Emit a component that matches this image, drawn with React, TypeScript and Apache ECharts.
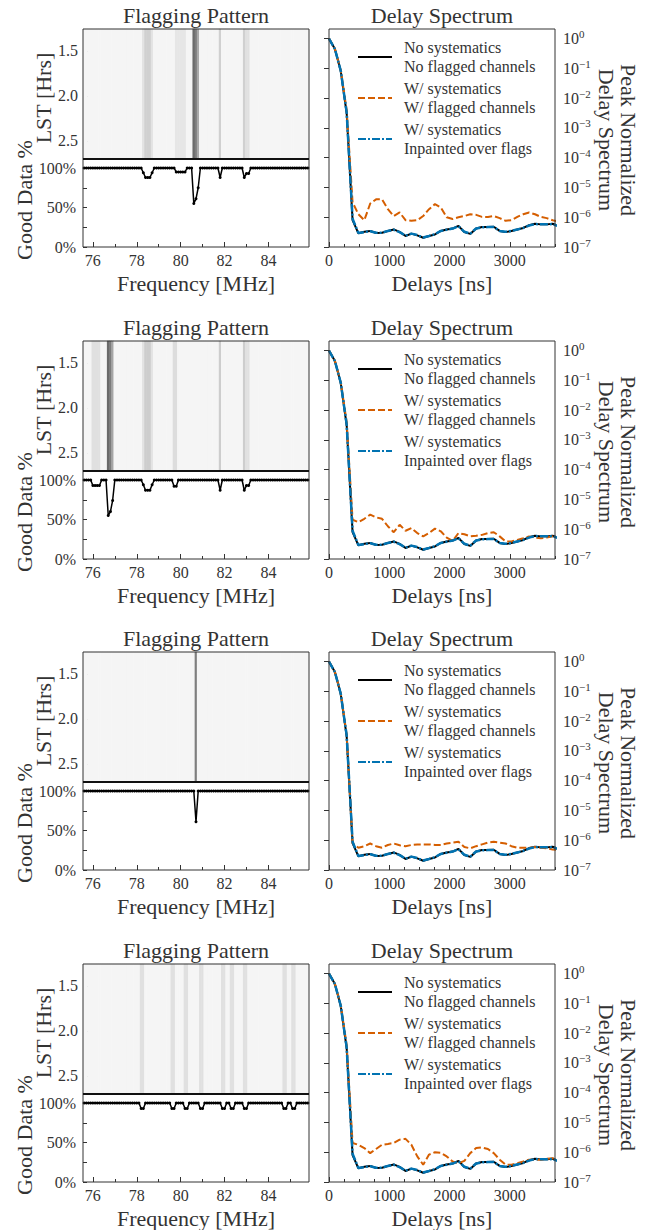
import React, { useEffect, useRef } from "react";
import * as echarts from "echarts";

// ---------------- data ----------------
const channelFreqs = [
  75.6, 75.7, 75.8, 75.9, 76.0, 76.1, 76.2, 76.3, 76.4, 76.5,
  76.6, 76.7, 76.8, 76.9, 77.0, 77.1, 77.2, 77.3, 77.4, 77.5,
  77.6, 77.7, 77.8, 77.9, 78.0, 78.1, 78.2, 78.3, 78.4, 78.5,
  78.6, 78.7, 78.8, 78.9, 79.0, 79.1, 79.2, 79.3, 79.4, 79.5,
  79.6, 79.7, 79.8, 79.9, 80.0, 80.1, 80.2, 80.3, 80.4, 80.5,
  80.6, 80.7, 80.8, 80.9, 81.0, 81.1, 81.2, 81.3, 81.4, 81.5,
  81.6, 81.7, 81.8, 81.9, 82.0, 82.1, 82.2, 82.3, 82.4, 82.5,
  82.6, 82.7, 82.8, 82.9, 83.0, 83.1, 83.2, 83.3, 83.4, 83.5,
  83.6, 83.7, 83.8, 83.9, 84.0, 84.1, 84.2, 84.3, 84.4, 84.5,
  84.6, 84.7, 84.8, 84.9, 85.0, 85.1, 85.2, 85.3, 85.4, 85.5,
  85.6, 85.7, 85.8,
];

const goodDataPct1 = [
  100, 100, 100, 100, 100, 100, 100, 100, 100, 100,
  100, 100, 100, 100, 100, 100, 100, 100, 100, 100,
  100, 100, 100, 100, 100, 100, 100, 94, 88, 88,
  88, 94, 100, 100, 100, 100, 100, 100, 100, 100,
  100, 100, 95, 95, 95, 95, 95, 100, 100, 100,
  55, 61, 75, 100, 100, 100, 100, 100, 100, 100,
  100, 100, 88, 100, 100, 100, 100, 100, 100, 100,
  100, 100, 100, 88, 93, 93, 100, 100, 100, 100,
  100, 100, 100, 100, 100, 100, 100, 100, 100, 100,
  100, 100, 100, 100, 100, 100, 100, 100, 100, 100,
  100, 100, 100,
];

const goodDataPct2 = [
  100, 100, 100, 100, 93, 93, 93, 93, 100, 100,
  100, 55, 60, 74, 100, 100, 100, 100, 100, 100,
  100, 100, 100, 100, 100, 100, 100, 94, 87, 87,
  87, 94, 100, 100, 100, 100, 100, 100, 100, 100,
  100, 92, 92, 100, 100, 100, 100, 100, 100, 100,
  100, 100, 100, 100, 100, 100, 100, 100, 100, 100,
  100, 100, 87, 100, 100, 100, 100, 100, 100, 100,
  100, 100, 100, 87, 93, 93, 100, 100, 100, 100,
  100, 100, 100, 100, 100, 100, 100, 100, 100, 100,
  100, 100, 100, 100, 100, 100, 100, 100, 100, 100,
  100, 100, 100,
];

const goodDataPct3 = [
  100, 100, 100, 100, 100, 100, 100, 100, 100, 100,
  100, 100, 100, 100, 100, 100, 100, 100, 100, 100,
  100, 100, 100, 100, 100, 100, 100, 100, 100, 100,
  100, 100, 100, 100, 100, 100, 100, 100, 100, 100,
  100, 100, 100, 100, 100, 100, 100, 100, 100, 100,
  100, 61, 100, 100, 100, 100, 100, 100, 100, 100,
  100, 100, 100, 100, 100, 100, 100, 100, 100, 100,
  100, 100, 100, 100, 100, 100, 100, 100, 100, 100,
  100, 100, 100, 100, 100, 100, 100, 100, 100, 100,
  100, 100, 100, 100, 100, 100, 100, 100, 100, 100,
  100, 100, 100,
];

const goodDataPct4 = [
  100, 100, 100, 100, 100, 100, 100, 100, 100, 100,
  100, 100, 100, 100, 100, 100, 100, 100, 100, 100,
  100, 100, 100, 100, 100, 100, 93, 93, 100, 100,
  100, 100, 100, 100, 100, 100, 100, 100, 100, 100,
  93, 93, 100, 100, 100, 100, 93, 93, 100, 100,
  100, 100, 100, 93, 93, 100, 100, 100, 100, 100,
  100, 100, 100, 93, 93, 100, 100, 93, 93, 100,
  100, 100, 100, 93, 93, 100, 100, 100, 100, 100,
  100, 100, 100, 100, 100, 100, 100, 100, 100, 100,
  100, 93, 93, 100, 100, 93, 93, 100, 100, 100,
  100, 100, 100,
];

const delaysNs = [
  0, 98, 195, 293, 391, 488, 586, 684, 781, 879,
  977, 1074, 1172, 1270, 1367, 1465, 1563, 1660, 1758, 1855,
  1953, 2051, 2148, 2246, 2344, 2441, 2539, 2637, 2734, 2832,
  2930, 3027, 3125, 3223, 3320, 3418, 3516, 3613, 3711, 3809,
];

// log10 of the peak-normalised delay spectrum
const noSystematicsLog = [
  0, -0.35, -1.09, -2.5, -6.1, -6.54, -6.49, -6.46, -6.53, -6.52,
  -6.46, -6.41, -6.49, -6.63, -6.55, -6.61, -6.69, -6.63, -6.58, -6.46,
  -6.41, -6.38, -6.29, -6.5, -6.56, -6.38, -6.33, -6.33, -6.32, -6.46,
  -6.5, -6.46, -6.41, -6.36, -6.27, -6.22, -6.24, -6.24, -6.22, -6.3,
];

const inpaintedLog = [
  0, -0.35, -1.08, -2.48, -6.05, -6.53, -6.5, -6.47, -6.52, -6.52,
  -6.46, -6.42, -6.5, -6.62, -6.55, -6.6, -6.68, -6.63, -6.57, -6.46,
  -6.42, -6.38, -6.3, -6.49, -6.55, -6.38, -6.34, -6.33, -6.33, -6.46,
  -6.49, -6.46, -6.41, -6.36, -6.28, -6.23, -6.24, -6.24, -6.23, -6.3,
];

const flaggedLog1 = [
  0, -0.35, -1.07, -2.4, -5.5, -5.9, -6.1, -5.54, -5.4, -5.4,
  -5.73, -5.96, -5.84, -6.1, -6.12, -6.1, -5.96, -5.73, -5.56, -5.67,
  -6.0, -6.06, -6.0, -5.96, -5.9, -5.92, -5.99, -5.99, -5.96, -6.03,
  -6.12, -6.1, -5.99, -5.9, -5.84, -5.9, -5.99, -6.03, -6.1, -6.15,
];

const flaggedLog2 = [
  0, -0.35, -1.07, -2.4, -5.68, -5.76, -5.65, -5.51, -5.6, -5.65,
  -5.9, -6.1, -5.85, -6.05, -5.96, -6.13, -6.24, -6.13, -5.98, -6.07,
  -6.28, -6.39, -6.13, -6.17, -6.24, -6.22, -6.19, -6.13, -6.1, -6.24,
  -6.41, -6.41, -6.36, -6.3, -6.24, -6.28, -6.3, -6.28, -6.24, -6.28,
];

const flaggedLog3 = [
  0, -0.35, -1.07, -2.45, -6.1, -6.25, -6.2, -6.11, -6.2, -6.25,
  -6.16, -6.11, -6.17, -6.2, -6.16, -6.14, -6.14, -6.14, -6.16, -6.16,
  -6.11, -6.08, -6.05, -6.23, -6.27, -6.2, -6.14, -6.08, -6.05, -6.08,
  -6.11, -6.2, -6.25, -6.25, -6.25, -6.23, -6.25, -6.27, -6.31, -6.33,
];

const flaggedLog4 = [
  0, -0.35, -1.07, -2.4, -5.69, -5.75, -5.86, -6.03, -5.89, -5.75,
  -5.72, -5.69, -5.58, -5.55, -5.75, -6.14, -6.42, -6.08, -6.0, -6.02,
  -6.14, -6.31, -6.37, -6.29, -6.03, -5.86, -5.84, -5.89, -6.03, -6.25,
  -6.42, -6.42, -6.37, -6.31, -6.25, -6.25, -6.25, -6.22, -6.2, -6.25,
];

const goodDataRows = [goodDataPct1, goodDataPct2, goodDataPct3, goodDataPct4];
const flaggedRows = [flaggedLog1, flaggedLog2, flaggedLog3, flaggedLog4];

const freqMajorTicks = [76, 78, 80, 82, 84];
const freqMinorTicks = [77, 79, 81, 83, 85];
const lstTicks = [1.5, 2.0, 2.5];
const pctTicks = [0, 25, 50, 75, 100];
const pctLabels = [0, 50, 100];
const delayMajorTicks = [0, 1000, 2000, 3000];
const delayMinorTicks = [250, 500, 750, 1250, 1500, 1750, 2250, 2500, 2750, 3250, 3500, 3750];

const legendNames = [
  "No systematics\nNo flagged channels",
  "W/ systematics\nW/ flagged channels",
  "W/ systematics\nInpainted over flags",
];

// ---------------- layout / style ----------------
const FONT = "'Liberation Serif', 'DejaVu Serif', serif";
const TEXT = "#333";
const AX = "#333";
const ROW_OFFS = [0, 312, 623, 935];
const L_LEFT = 83;
const R_LEFT = 329;
const PW = 226;

function buildOption() {
  const grids: any[] = [];
  const xAxes: any[] = [];
  const yAxes: any[] = [];
  const series: any[] = [];
  const legends: any[] = [];
  const elements: any[] = [];
  const heatIdx: number[] = [];

  const tickLabel = { fontFamily: FONT, fontSize: 16, color: TEXT };
  const tickLine = { color: AX, width: 1 };

  const txt = (text: string, x: number, y: number, size: number, rotation = 0, lineHeight?: number) => ({
    type: "text",
    x,
    y,
    rotation,
    z: 100,
    silent: true,
    style: {
      text,
      fill: TEXT,
      fontSize: size,
      fontFamily: FONT,
      lineHeight: lineHeight ?? size * 1.2,
      align: "center",
      verticalAlign: "middle",
      textAlign: "center",
      textVerticalAlign: "middle",
    },
  });
  const frame = (x: number, y: number, w: number, h: number) => ({
    type: "rect",
    z: 100,
    silent: true,
    shape: { x, y, width: w, height: h },
    style: { fill: "none", stroke: AX, lineWidth: 1 },
  });

  ROW_OFFS.forEach((o, r) => {
    const g0 = grids.length;
    grids.push({ left: L_LEFT, top: 29 + o, width: PW, height: 130 });
    grids.push({ left: L_LEFT, top: 159 + o, width: PW, height: 88 });
    grids.push({ left: R_LEFT, top: 29 + o, width: PW, height: 218 });

    const x0 = xAxes.length;
    xAxes.push({ type: "category", gridIndex: g0, data: channelFreqs.map(String), show: false, position: "top" });
    xAxes.push({
      type: "value", gridIndex: g0 + 1, min: 75.55, max: 85.85, position: "bottom",
      axisLine: { show: false }, splitLine: { show: false },
      axisTick: { show: true, inside: true, length: 5, customValues: freqMajorTicks, lineStyle: tickLine },
      axisLabel: { customValues: freqMajorTicks, margin: 5, ...tickLabel, formatter: (v: number) => String(v) },
    });
    xAxes.push({
      type: "value", gridIndex: g0 + 1, min: 75.55, max: 85.85, position: "bottom",
      axisLine: { show: false }, splitLine: { show: false },
      axisTick: { show: true, inside: true, length: 3, customValues: freqMinorTicks, lineStyle: tickLine },
      axisLabel: { show: false },
    });
    xAxes.push({
      type: "value", gridIndex: g0 + 2, min: 0, max: 3750, position: "bottom",
      axisLine: { show: false }, splitLine: { show: false },
      axisTick: { show: true, inside: true, length: 5, customValues: delayMajorTicks, lineStyle: tickLine },
      axisLabel: { customValues: delayMajorTicks, margin: 5, ...tickLabel, formatter: (v: number) => String(v) },
    });
    xAxes.push({
      type: "value", gridIndex: g0 + 2, min: 0, max: 3750, position: "bottom",
      axisLine: { show: false }, splitLine: { show: false },
      axisTick: { show: true, inside: true, length: 3, customValues: delayMinorTicks, lineStyle: tickLine },
      axisLabel: { show: false },
    });

    const y0 = yAxes.length;
    yAxes.push({ type: "category", gridIndex: g0, data: ["LST"], show: false, position: "right" });
    yAxes.push({
      type: "value", gridIndex: g0, min: 1.256, max: 2.7, inverse: true, position: "left",
      axisLine: { show: false }, splitLine: { show: false },
      axisTick: { show: true, inside: true, length: 5, customValues: lstTicks, lineStyle: tickLine },
      axisLabel: { customValues: lstTicks, margin: 5, ...tickLabel, formatter: (v: number) => v.toFixed(1) },
    });
    yAxes.push({
      type: "value", gridIndex: g0 + 1, min: 0, max: 111.4, position: "left",
      axisLine: { show: false }, splitLine: { show: false },
      axisTick: { show: true, inside: true, length: 4, customValues: pctTicks, lineStyle: tickLine },
      axisLabel: { customValues: pctLabels, margin: 7, ...tickLabel, formatter: (v: number) => `${v}%` },
    });
    yAxes.push({
      type: "log", logBase: 10, gridIndex: g0 + 2, min: 1e-7, max: 2.1, position: "right",
      axisLine: { show: false }, splitLine: { show: false }, minorTick: { show: false },
      axisTick: { show: true, inside: true, length: 5, lineStyle: tickLine },
      axisLabel: {
        margin: 8,
        showMaxLabel: false,
        formatter: (v: number) => {
          const e = Math.round(Math.log10(v));
          return `{b|10}{s|${e < 0 ? "\u2212" + -e : e}}`;
        },
        rich: {
          b: { fontFamily: FONT, fontSize: 16, color: TEXT, lineHeight: 20 },
          s: { fontFamily: FONT, fontSize: 11, color: TEXT, lineHeight: 12, verticalAlign: "top" },
        },
      },
    });

    const pct = goodDataRows[r];
    heatIdx.push(series.length);
    series.push({
      type: "heatmap", xAxisIndex: x0, yAxisIndex: y0, silent: true,
      data: channelFreqs.map((_, i) => [i, 0, pct[i]]),
      emphasis: { disabled: true },
    });
    series.push({
      type: "line", xAxisIndex: x0 + 1, yAxisIndex: y0 + 2, silent: true,
      data: channelFreqs.map((f, i) => [f, pct[i]]),
      symbol: "circle", symbolSize: 3, showAllSymbol: true,
      itemStyle: { color: "#000" },
      lineStyle: { color: "#000", width: 1.5 },
    });
    const fl = flaggedRows[r];
    series.push({
      type: "line", name: legendNames[0], xAxisIndex: x0 + 3, yAxisIndex: y0 + 3, silent: true,
      data: delaysNs.map((d, k) => [d, Math.pow(10, noSystematicsLog[k])]),
      symbol: "none", color: "#000", lineStyle: { color: "#000", width: 2 },
    });
    series.push({
      type: "line", name: legendNames[1], xAxisIndex: x0 + 3, yAxisIndex: y0 + 3, silent: true,
      data: delaysNs.map((d, k) => [d, Math.pow(10, fl[k])]),
      symbol: "none", color: "#d55e00", lineStyle: { color: "#d55e00", width: 2, type: [7, 3] },
    });
    series.push({
      type: "line", name: legendNames[2], xAxisIndex: x0 + 3, yAxisIndex: y0 + 3, silent: true,
      data: delaysNs.map((d, k) => [d, Math.pow(10, inpaintedLog[k])]),
      symbol: "none", color: "#0173b2", lineStyle: { color: "#0173b2", width: 2.5, type: [8, 2, 2, 2] },
    });

    legends.push({
      orient: "vertical", left: 352, top: 33 + o, itemWidth: 34, itemHeight: 14, itemGap: 3,
      selectedMode: false, data: legendNames,
      itemStyle: { opacity: 0, borderWidth: 0 },
      textStyle: { fontFamily: FONT, fontSize: 16, lineHeight: 19, color: TEXT, padding: [0, 0, 0, 7] },
    });

    elements.push(frame(L_LEFT, 29 + o, PW, 130));
    elements.push(frame(L_LEFT, 159 + o, PW, 88));
    elements.push(frame(R_LEFT, 29 + o, PW, 218));
    elements.push({
      type: "line", z: 101, silent: true,
      shape: { x1: L_LEFT, y1: 159 + o, x2: L_LEFT + PW, y2: 159 + o },
      style: { stroke: "#111", lineWidth: 2 },
    });
    elements.push(txt("Flagging Pattern", 196, 15 + o, 22));
    elements.push(txt("Delay Spectrum", 442, 15 + o, 22));
    elements.push(txt("Frequency [MHz]", 196, 283 + o, 22));
    elements.push(txt("Delays [ns]", 442, 283 + o, 22));
    elements.push(txt("LST [Hrs]", 43, 98 + o, 22, Math.PI / 2));
    elements.push(txt("Good Data %", 24, 200 + o, 22, Math.PI / 2));
    elements.push(txt("Peak Normalized\nDelay Spectrum", 617, 140 + o, 22, -Math.PI / 2, 22));
  });

  return {
    animation: false,
    textStyle: { fontFamily: FONT },
    grid: grids,
    xAxis: xAxes,
    yAxis: yAxes,
    visualMap: [{
      type: "continuous", show: false, min: 50, max: 100, dimension: 2, seriesIndex: heatIdx,
      inRange: { color: ["#5c5c5c", "#f5f5f5"] },
    }],
    legend: legends,
    series,
    graphic: { elements },
  };
}

export default function App() {
  const ref = useRef<HTMLDivElement>(null);
  useEffect(() => {
    document.body.style.margin = "0";
    const chart = echarts.init(ref.current!, null, { renderer: "svg" });
    chart.setOption(buildOption() as any);
    return () => chart.dispose();
  }, []);
  return <div ref={ref} style={{ width: 655, height: 1230 }} />;
}
